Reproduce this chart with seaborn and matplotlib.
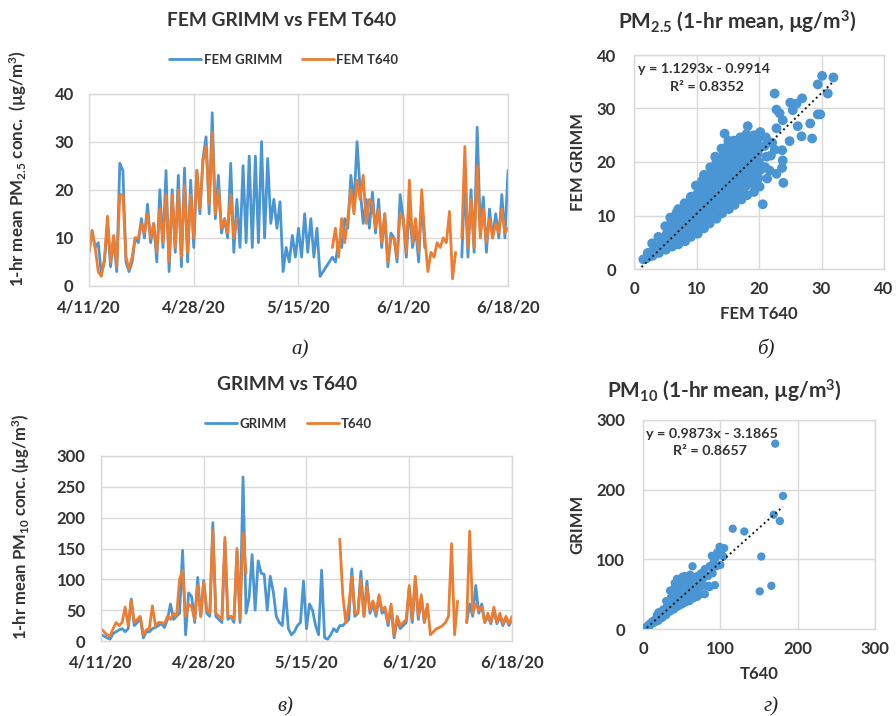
import numpy as np
import pandas as pd
import matplotlib.pyplot as plt
from matplotlib.lines import Line2D
import seaborn as sns

# ---- data (12 h steps from 4/11/20 to 6/18/20) ----
nan = np.nan

pm25_grimm = [7, 11.5, 8, 9, 2.5, 5, 13, 4, 10, 3,
              25.5, 24, 5, 3, 5, 10, 9, 14, 10, 17,
              9, 13, 5, 20, 8, 24, 3, 20, 7, 23,
              4, 24.5, 5, 22, 8, 24, 15, 26.5, 31, 15,
              36, 14, 23, 11, 14, 10, 25.5, 7, 18, 8,
              25, 9, 27, 8, 27, 9, 30, 10, 26.5, 13,
              18, 12, 17.5, 3, 8, 5, 10.5, 6, 12, 6,
              15, 7, 14, 6, 12, 2, 3, 4, 5, 6,
              5, 9, 8, 14, 12, 23, 17, 30, 20, 13,
              18, 12, 19.5, 11, 18, 8, 15, 4, 11, 10,
              5, 19, 14, 6, 17, 8, 12, 5, 18, 8,
              nan, nan, nan, nan, nan, nan, nan, nan, nan, nan,
              nan, 6, 22, 6, 20, 7, 33, 12, 18.5, 7,
              16, 10, 15, 10, 19, 10,
              24]

pm25_t640 = [7, 11.5, 8, 3, 2, 5.5, 14.5, 5, 10.5, 4,
             19, 19, 6, 3.5, 6, 10, 10, 13, 11, 15,
             10, 13, 7, 16, 9, 19, 5, 19, 8, 20,
             6, 21, 7, 19, 10, 24, 16, 26, 29, 17,
             32, 15, 20, 12, 14, 11, 19, 10, 14, nan,
             nan, nan, nan, nan, nan, nan, nan, nan, nan, nan,
             nan, nan, nan, nan, nan, nan, nan, nan, nan, nan,
             nan, nan, nan, nan, nan, nan, nan, nan, nan, 8,
             12, 6, 14, 9, 14, 20, 15, 22, 18, 23,
             13, 18, 17, 12, 16, 9, 15, 5, 10, 10,
             6, 15, 14, 7, 22, 9, 14, 7, 20, 10,
             3, 7, 6, 9, 8, 10, 9, 15.5, 1.5, 7,
             nan, 10, 29, 8, 18, 8, 25, 10, 16, 9,
             14, 10, 13, 11, 16, 11,
             12]

pm10_grimm = [10, 8, 5, 3, 12, 15, 18, 20, 15, 20,
              68, 25, 30, 38, 5, 15, 15, 20, 22, 25,
              28, 22, 35, 60, 35, 40, 45, 147, 10, 78,
              72, 30, 103, 40, 98, 45, 40, 192, 40, 35,
              30, 160, 35, 40, 30, 145, 30, 266, 45, 70,
              140, 50, 130, 110, 108, 50, 105, 80, 40, 30,
              25, 85, 20, 10, 15, 25, 30, 97, 20, 60,
              50, 25, 10, 115, 5, 3, 10, 20, 15, 25,
              25, 30, 35, 117, 40, 45, 113, 40, 97, 45,
              60, 40, 70, 45, 50, 25, 55, 5, 35, 20,
              25, 30, 85, 30, 100, 35, 70, 30, 55, nan,
              nan, nan, nan, nan, nan, nan, nan, nan, nan, nan,
              nan, 30, 60, 40, 90, 45, 60, 30, 40, 28,
              50, 28, 40, 25, 38, 25,
              35]

pm10_t640 = [20, 15, 10, 8, 20, 30, 25, 30, 55, 25,
             65, 30, 35, 40, 10, 18, 20, 57, 25, 30,
             30, 28, 40, 35, 45, 40, 100, 115, 40, 60,
             55, 35, 90, 40, 95, 50, 45, 180, 45, 40,
             35, 168, 40, 40, 35, 150, 35, 175, 110, nan,
             nan, nan, nan, nan, nan, nan, nan, nan, nan, nan,
             nan, nan, nan, nan, nan, nan, nan, nan, nan, nan,
             nan, nan, nan, nan, nan, nan, nan, nan, nan, 165,
             75, 30, 58, 105, 45, 45, 100, 40, 88, 50,
             65, 45, 75, 50, 55, 30, 60, 8, 40, 25,
             30, 35, 90, 35, 105, 40, 75, 30, 60, 10,
             15, 20, 22, 25, 30, 40, 158, 10, 65, nan,
             nan, 30, 178, 45, 60, 50, 55, 30, 45, 30,
             55, 30, 45, 28, 40, 28,
             40]

# scatter PM2.5: x = FEM T640, y = FEM GRIMM
sc25_t640 = [1.5, 2.0, 2.2, 2.6, 3.0, 3.2, 2.9, 4.0, 4.2, 3.9,
             5.1, 4.9, 5.2, 5.0, 6.1, 5.9, 6.2, 6.0, 5.8,
             7.1, 6.9, 7.2, 7.0, 6.8, 7.1, 8.2, 7.9, 8.1, 8.0, 7.8, 8.1,
             9.1, 8.9, 9.2, 9.0, 8.8, 9.1, 10.2, 9.9, 10.1, 10.0, 9.8, 10.1, 9.9,
             11.2, 10.9, 11.1, 11.0, 10.8, 11.1, 10.9, 11.2,
             12.1, 11.9, 12.2, 12.0, 11.8, 12.1, 11.9, 12.2,
             13.2, 12.9, 13.1, 13.0, 12.8, 13.1, 12.9, 13.2, 13.0,
             14.1, 13.9, 14.2, 14.0, 13.8, 14.1, 13.9, 14.2, 14.0,
             15.2, 14.9, 15.1, 15.0, 14.8, 15.1, 14.9, 15.2, 15.0, 15.1,
             16.1, 15.9, 16.2, 16.0, 15.8, 16.1, 15.9, 16.2, 16.0,
             17.2, 16.9, 17.1, 17.0, 16.8, 17.1, 16.9, 17.2, 17.0,
             18.1, 17.9, 18.2, 18.0, 17.8, 18.1, 17.9, 18.2, 18.0,
             19.2, 18.9, 19.1, 19.0, 18.8, 19.1, 18.9, 19.2,
             20.1, 19.9, 20.2, 20.0, 19.8, 20.1, 19.9, 20.2,
             21.0, 21.2, 20.9, 21.1, 21.9, 22.1,
             30.1, 31.9, 29.4, 31.0, 22.5, 26.9, 25.0, 26.0, 22.8, 23.3,
             25.4, 29.4, 29.8, 23.8, 28.2, 26.2, 18.2, 14.5, 22.8, 26.8,
             28.5, 24.9, 22.5, 23.7, 23.8, 23.7, 21.7, 22.8, 21.3, 23.9, 20.6]
sc25_grimm = [1.8, 2.0, 3.0, 2.4, 2.5, 3.8, 4.8, 3.0, 4.5, 6.0,
              3.6, 5.0, 6.5, 8.0, 4.2, 5.6, 7.0, 8.5, 9.6,
              4.6, 6.0, 7.5, 9.0, 10.5, 11.2, 5.2, 6.6, 8.0, 9.5, 11.0, 12.3,
              6.0, 7.5, 9.0, 10.5, 12.0, 13.5, 6.6, 8.0, 9.5, 11.0, 12.5, 14.0, 15.6,
              7.6, 9.0, 10.5, 12.0, 13.5, 15.0, 16.5, 17.6,
              8.5, 10.0, 11.5, 13.0, 14.5, 16.0, 17.5, 19.0,
              9.4, 11.0, 12.5, 14.0, 15.5, 17.0, 18.5, 20.0, 21.0,
              10.4, 12.0, 13.5, 15.0, 16.5, 18.0, 19.5, 21.0, 22.5,
              11.2, 12.5, 14.0, 15.5, 17.0, 18.5, 20.0, 21.5, 23.0, 24.0,
              12.0, 13.5, 15.0, 16.5, 18.0, 19.5, 21.0, 22.5, 24.0,
              13.0, 14.5, 16.0, 17.5, 19.0, 20.5, 22.0, 23.5, 24.6,
              13.8, 15.5, 17.0, 18.5, 20.0, 21.5, 23.0, 24.5, 25.2,
              14.4, 16.0, 17.5, 19.0, 20.5, 22.0, 23.5, 25.0,
              15.4, 17.0, 18.5, 20.0, 21.5, 23.0, 24.5, 25.6,
              19.0, 21.0, 23.0, 24.6, 21.2, 23.6,
              36.1, 35.8, 34.5, 32.8, 32.8, 31.9, 31.1, 30.9, 29.8, 29.1,
              29.7, 28.9, 28.9, 27.8, 27.2, 26.7, 26.7, 25.3, 26.3, 24.8,
              24.4, 23.9, 22.3, 22.2, 20.3, 18.9, 18.4, 17.8, 16.9, 16.1, 12.1]

# scatter PM10: x = T640, y = GRIMM
sc10_t640 = [1, 3, 5, 6, 8, 9, 11, 12, 14, 15,
             16, 17, 18, 20, 21, 20, 25, 24, 26, 30, 29, 31, 30,
             35, 34, 36, 35, 40, 41, 39, 40, 41, 45, 44, 46, 45, 44,
             50, 51, 49, 50, 51, 55, 54, 56, 55, 54, 60, 61, 59, 60, 61,
             65, 64, 66, 65, 64, 70, 71, 69, 70, 75, 74, 76, 75,
             80, 81, 79, 80, 85, 84, 86, 90, 91, 89, 95, 94, 96,
             100, 101, 99, 104, 105,
             86, 93, 116, 131, 153, 151, 166, 169, 177, 181, 171]
sc10_grimm = [1, 2, 2, 5, 4, 8, 7, 11, 9, 13,
              10, 15, 20, 12, 18, 24, 16, 22, 28, 20, 26, 33, 40,
              25, 35, 45, 55, 28, 38, 48, 58, 66, 32, 42, 52, 62, 72,
              35, 45, 55, 65, 75, 38, 48, 58, 68, 76, 40, 50, 60, 70, 78,
              44, 54, 64, 74, 90, 46, 56, 66, 76, 50, 60, 70, 80,
              50, 62, 74, 86, 62, 76, 90, 80, 95, 105, 90, 102, 110,
              92, 108, 118, 104, 116,
              60, 63, 144, 140, 104, 54, 62, 164, 155, 191, 266]

# Excel trendlines as printed on the chart
fit25 = (1.1293, -0.9914, 1.2, 32.0)   # slope, intercept, x from, x to
fit10 = (0.9873, -3.1865, 0.0, 181.0)

tick_dates = ["2020-04-11", "2020-04-28", "2020-05-15", "2020-06-01", "2020-06-18"]
tick_names = ["4/11/20", "4/28/20", "5/15/20", "6/1/20", "6/18/20"]

BLUE = "#4A95D4"
ORANGE = "#ED7D31"
GRID = "#D9D9D9"
TXT = "#333333"

sns.set_style("white")
plt.rcParams["font.family"] = ["Lato", "DejaVu Sans"]
plt.rcParams["font.weight"] = "bold"
plt.rcParams["axes.labelweight"] = "bold"
plt.rcParams["mathtext.default"] = "regular"

fig = plt.figure(figsize=(8.96, 7.16), dpi=100)
fig.patch.set_facecolor("white")
renderer = fig.canvas.get_renderer()

dates = pd.date_range("2020-04-11", periods=len(pm25_grimm), freq="12h")

W, H = 896.0, 716.0


def rect(left, top, right, bottom):
    return [left / W, 1 - bottom / H, (right - left) / W, (bottom - top) / H]


def fit_width(txt, target_px):
    # scale font so the text is as long (on screen) as in the reference
    bb = txt.get_window_extent(renderer)
    span = max(bb.width, bb.height)
    txt.set_fontsize(txt.get_fontsize() * target_px / span)


def long_frame(grimm, t640, names):
    parts = []
    for name, vals in zip(names, (grimm, t640)):
        s = pd.Series(vals, dtype=float)
        parts.append(pd.DataFrame({"time": dates, "value": s,
                                   "instrument": name,
                                   "segment": s.isna().cumsum()}))
    return pd.concat(parts, ignore_index=True).dropna()


def style_axes(ax):
    ax.grid(True, color=GRID, lw=1)
    ax.set_axisbelow(True)
    for sp in ax.spines.values():
        sp.set_color(GRID)
        sp.set_linewidth(1)
    ax.tick_params(length=0, labelsize=12, labelcolor=TXT)


def time_panel(box, grimm, t640, names, ylim, yticks, ylabel, lab_xy, lab_px, leg_x):
    ax = fig.add_axes(rect(*box))
    df = long_frame(grimm, t640, names)
    sns.lineplot(data=df, x="time", y="value", hue="instrument",
                 hue_order=names, units="segment", estimator=None,
                 palette=[BLUE, ORANGE], lw=2.0, legend=False, ax=ax)
    style_axes(ax)
    ax.tick_params(axis="y", pad=11)
    ax.tick_params(axis="x", pad=10)
    ax.set_xlim(pd.Timestamp(tick_dates[0]), pd.Timestamp(tick_dates[-1]))
    ax.set_xticks(pd.to_datetime(tick_dates))
    ax.set_xticklabels(tick_names)
    ax.set_ylim(*ylim)
    ax.set_yticks(yticks)
    ax.set_xlabel("")
    lab = ax.set_ylabel(ylabel, fontsize=11, color=TXT)
    fit_width(lab, lab_px)
    ax.yaxis.set_label_coords(*lab_xy)
    handles = [Line2D([], [], color=c, lw=2) for c in (BLUE, ORANGE)]
    ax.legend(handles, names, loc="center", bbox_to_anchor=(leg_x, 1.175),
              ncol=2, frameon=False, handlelength=2.4, handletextpad=0.2,
              columnspacing=1.5, prop={"weight": "bold", "size": 9.5},
              labelcolor=TXT)
    return ax


def scatter_panel(box, xs, ys, fit, lim, ticks, xlabel, ylabel, size, eq, r2):
    ax = fig.add_axes(rect(*box))
    sns.scatterplot(x=xs, y=ys, color=BLUE, s=size, edgecolor="none",
                    alpha=1, ax=ax, zorder=3)
    slope, icpt, x0, x1 = fit
    xf = np.array([x0, x1])
    ax.plot(xf, slope * xf + icpt, color="#1a1a1a", lw=1.4, ls=(0, (1, 1.6)),
            zorder=4)
    style_axes(ax)
    ax.tick_params(axis="y", pad=13)
    ax.tick_params(axis="x", pad=9)
    ax.set_xlim(*lim)
    ax.set_ylim(*lim)
    ax.set_xticks(ticks)
    ax.set_yticks(ticks)
    ax.set_xlabel(xlabel, fontsize=12, color=TXT, labelpad=6)
    ax.set_ylabel(ylabel, fontsize=12, color=TXT, labelpad=8)
    ax.text(0.015, 0.935, eq, transform=ax.transAxes, fontsize=10.3,
            color=TXT, ha="left", va="center", zorder=5)
    ax.text(0.29, 0.85, r2, transform=ax.transAxes, fontsize=10.3,
            color=TXT, ha="center", va="center", zorder=5)
    return ax


time_panel((89, 93.5, 508, 286), pm25_grimm, pm25_t640,
           ["FEM GRIMM", "FEM T640"], (0, 40), [0, 10, 20, 30, 40],
           "1-hr mean PM$_{2.5}$ conc.  (µg/m$^3$)", (-0.143, 0.61), 237, 0.465)
time_panel((101, 456, 512, 641), pm10_grimm, pm10_t640,
           ["GRIMM", "T640"], (0, 300), [0, 50, 100, 150, 200, 250, 300],
           "1-hr mean PM$_{10}$ conc. (µg/m$^3$)", (-0.168, 0.615), 227, 0.457)

scatter_panel((634, 55, 884, 269), sc25_t640, sc25_grimm, fit25,
              (0, 40), [0, 10, 20, 30, 40], "FEM T640", "FEM GRIMM", 50,
              "y = 1.1293x - 0.9914", "R² = 0.8352")
scatter_panel((643, 420, 875, 629), sc10_t640, sc10_grimm, fit10,
              (0, 300), [0, 100, 200, 300], "T640", "GRIMM", 36,
              "y = 0.9873x - 3.1865", "R² = 0.8657")

# titles
t_a = fig.text(282 / W, 1 - 21 / H, "FEM GRIMM vs FEM T640", fontsize=14,
               color=TXT, ha="center", va="center")
fit_width(t_a, 232)
fig.text(287 / W, 1 - 385 / H, "GRIMM vs T640", fontsize=t_a.get_fontsize(),
         color=TXT, ha="center", va="center")
t_b = fig.text(737 / W, 1 - 22 / H, "PM$_{2.5}$ (1-hr mean, µg/m$^3$)",
               fontsize=14, color=TXT, ha="center", va="center")
fit_width(t_b, 239)
fig.text(724 / W, 1 - 391 / H, "PM$_{10}$ (1-hr mean, µg/m$^3$)",
         fontsize=t_b.get_fontsize(), color=TXT, ha="center", va="center")

# sub-figure letters
for x, y, s in [(300, 350, "а)"), (766, 349, "б)"), (285, 707, "в)"), (771, 707, "г)")]:
    fig.text(x / W, 1 - y / H, s, fontsize=15, style="italic", weight="normal",
             family=["Liberation Serif", "DejaVu Serif"], color="#222222",
             ha="center", va="center")

fig.savefig("out.png", dpi=100, facecolor="white")
